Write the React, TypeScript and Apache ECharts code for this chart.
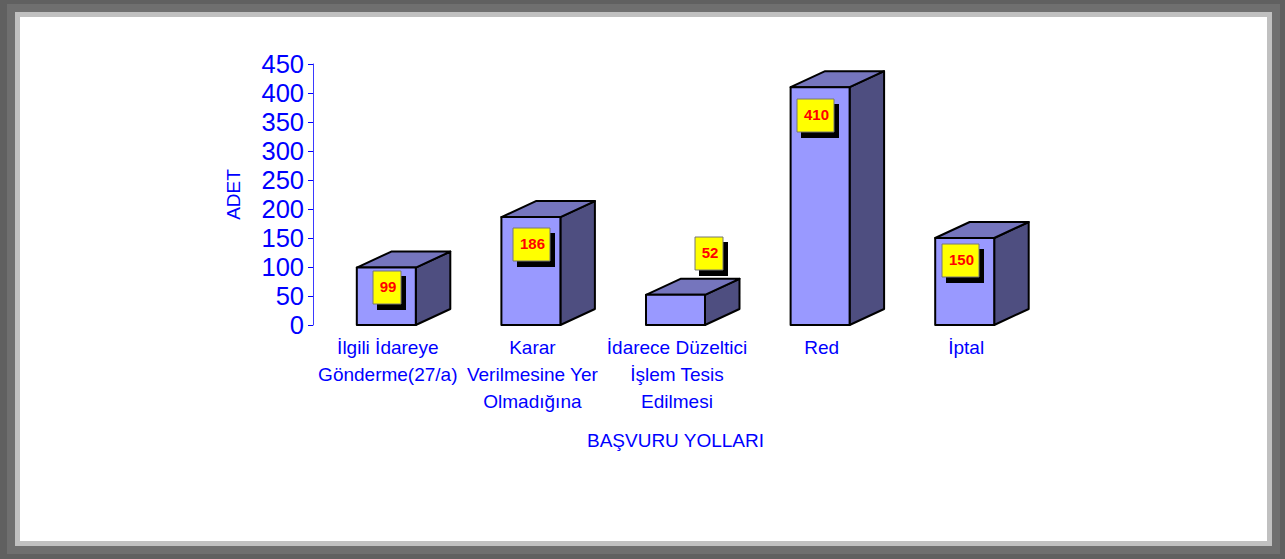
import React, { useEffect, useRef } from "react";
import * as echarts from "echarts";

const categories = [
  "İlgili İdareye\nGönderme(27/a)",
  "Karar\nVerilmesine Yer\nOlmadığına",
  "İdarece Düzeltici\nİşlem Tesis\nEdilmesi",
  "Red",
  "İptal",
];
const values = [99, 186, 52, 410, 150];
const yTicksMax = 450;
const yTickStep = 50;
const yAxisTitle = "ADET";
const xAxisTitle = "BAŞVURU YOLLARI";

// Layout of the value tags relative to each bar: [dx from bar centre, dy from bar top]
const tagOffsets = [
  [0.5, 3.5],
  [0.8, 11],
  [33, -58],
  [-5, 12],
  [-4, 6],
];

const FONT = '"Liberation Sans", Arial, sans-serif';
const BLUE = "#0000ff";

const renderBar = (params: any, api: any) => {
  const idx = api.value(0);
  const val = api.value(1);
  const [cx, top] = api.coord([idx, val]);
  const [, bottom] = api.coord([idx, 0]);
  const w = api.size([1, 0])[0] * 0.408;
  const l = cx - w / 2;
  const r = cx + w / 2;
  const dx = 34.5;
  const dy = -16;
  const edge = { stroke: "#000", lineWidth: 2, lineJoin: "round" };
  const label = String(values[params.dataIndex]);
  const boxW = label.length > 2 ? 37 : 28;
  const boxH = 33;
  const [ox, oy] = tagOffsets[params.dataIndex];
  const bx = Math.round(cx + ox - boxW / 2);
  const by = Math.round(top + oy);
  return {
    type: "group",
    children: [
      {
        type: "polygon",
        shape: { points: [[r, bottom], [r + dx, bottom + dy], [r + dx, top + dy], [r, top]] },
        style: { fill: "#4e4e80", ...edge },
      },
      {
        type: "polygon",
        shape: { points: [[l, top], [l + dx, top + dy], [r + dx, top + dy], [r, top]] },
        style: { fill: "#7575bd", ...edge },
      },
      {
        type: "rect",
        shape: { x: l, y: top, width: w, height: bottom - top },
        style: { fill: "#9999ff", ...edge },
      },
      {
        type: "rect",
        shape: { x: bx + 4, y: by + 5, width: boxW + 1, height: boxH + 1 },
        style: { fill: "#000" },
      },
      {
        type: "rect",
        shape: { x: bx, y: by, width: boxW, height: boxH },
        style: { fill: "#ffff00", stroke: "#777", lineWidth: 1 },
      },
      {
        type: "text",
        x: bx + boxW / 2 + 1,
        y: by + boxH / 2 - 1,
        style: {
          text: label,
          fill: "#ff0000",
          font: `bold 15px ${FONT}`,
          align: "center",
          verticalAlign: "middle",
        },
      },
    ],
  };
};

export default function App() {
  const ref = useRef<HTMLDivElement>(null);
  useEffect(() => {
    document.body.style.margin = "0";
    const chart = echarts.init(ref.current!, undefined, { renderer: "svg" });
    chart.setOption({
      animation: false,
      backgroundColor: "#606060",
      textStyle: { fontFamily: FONT },
      graphic: [
        { type: "rect", z: -10, shape: { x: 7, y: 4, width: 1273, height: 550 }, style: { fill: "#6f6f6f" } },
        { type: "rect", z: -9, shape: { x: 15, y: 12, width: 1257, height: 534 }, style: { fill: "#c0c0c0" } },
        { type: "rect", z: -8, shape: { x: 20, y: 17, width: 1247, height: 524 }, style: { fill: "#ffffff" } },
      ],
      grid: { left: 314, top: 64, width: 723, height: 261, containLabel: false },
      xAxis: {
        type: "category",
        data: categories,
        name: xAxisTitle,
        nameLocation: "middle",
        nameGap: 106,
        nameTextStyle: { color: BLUE, fontSize: 19, fontFamily: FONT },
        axisLine: { show: false },
        axisTick: { show: false },
        axisLabel: {
          interval: 0,
          color: BLUE,
          fontSize: 19,
          fontFamily: FONT,
          lineHeight: 27,
          margin: 9,
          padding: [0, 0, 0, 3],
        },
      },
      yAxis: {
        type: "value",
        min: 0,
        max: yTicksMax,
        interval: yTickStep,
        offset: 1,
        name: yAxisTitle,
        nameLocation: "middle",
        nameRotate: 90,
        nameGap: 70,
        nameTextStyle: { color: BLUE, fontSize: 19, fontFamily: FONT },
        splitLine: { show: false },
        axisLine: { show: true, lineStyle: { color: "#3a3aff", width: 1 } },
        axisTick: { show: true, length: 5, lineStyle: { color: BLUE, width: 1 } },
        axisLabel: { color: BLUE, fontSize: 25.5, fontFamily: FONT, margin: 9 },
      },
      series: [
        {
          type: "custom",
          clip: false,
          renderItem: renderBar,
          encode: { x: 0, y: 1 },
          data: values.map((v, i) => [i, v]),
        },
      ],
    });
    return () => chart.dispose();
  }, []);
  return <div ref={ref} style={{ position: "fixed", left: 0, top: 0, width: 1285, height: 559 }} />;
}
